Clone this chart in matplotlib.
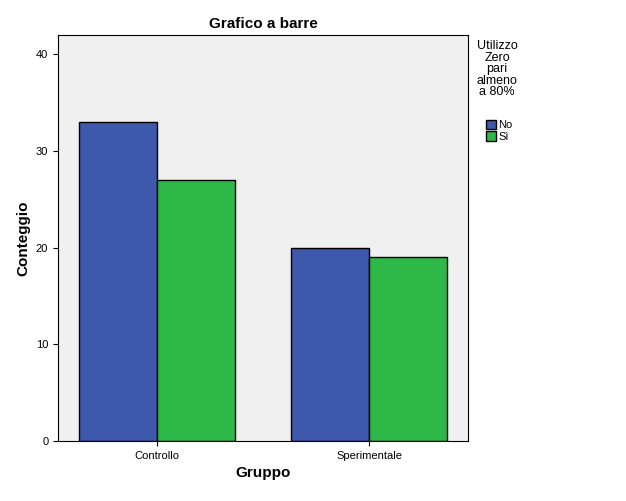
import matplotlib
matplotlib.use("Agg")
import matplotlib.pyplot as plt
import numpy as np

categories = ["Controllo", "Sperimentale"]
series_names = ["No", "Sì"]
no_values = [33, 20]
si_values = [27, 19]
colors = ["#3e58ac", "#2eb848"]

plt.rcParams['font.family'] = ['Liberation Sans', 'DejaVu Sans']
fig = plt.figure(figsize=(6.26, 5.01), dpi=100)
ax = fig.add_axes([0.0927, 0.1198, 0.655, 0.810])
ax.set_facecolor("#f0f0f0")
x = np.arange(len(categories))
w = 0.368
ax.bar(x - w/2, no_values, w, color=colors[0], edgecolor="black", linewidth=1, label=series_names[0])
ax.bar(x + w/2, si_values, w, color=colors[1], edgecolor="black", linewidth=1, label=series_names[1])
ax.set_xlim(-0.467, 1.467)
ax.set_ylim(0, 42)
ax.set_yticks([0, 10, 20, 30, 40])
ax.set_xticks(x)
ax.set_xticklabels(categories, fontsize=8)
ax.tick_params(axis='y', labelsize=8)
ax.set_xlabel("Gruppo", fontsize=11, fontweight="bold")
ax.set_ylabel("Conteggio", fontsize=11, fontweight="bold")
ax.set_title("Grafico a barre", fontsize=11, fontweight="bold", pad=5)
fig.text(497/626, 1 - 40/501, "Utilizzo\nZero\npari\nalmeno\na 80%", ha="center", va="top", fontsize=9, linespacing=0.95)
leg = fig.legend(loc="upper left", bbox_to_anchor=(478/626, 1 - 112/501), frameon=False,
                 fontsize=8, handlelength=0.9, handleheight=0.9, handletextpad=0.2,
                 labelspacing=0.1, borderpad=0.2)
fig.savefig("out.png", dpi=100)
